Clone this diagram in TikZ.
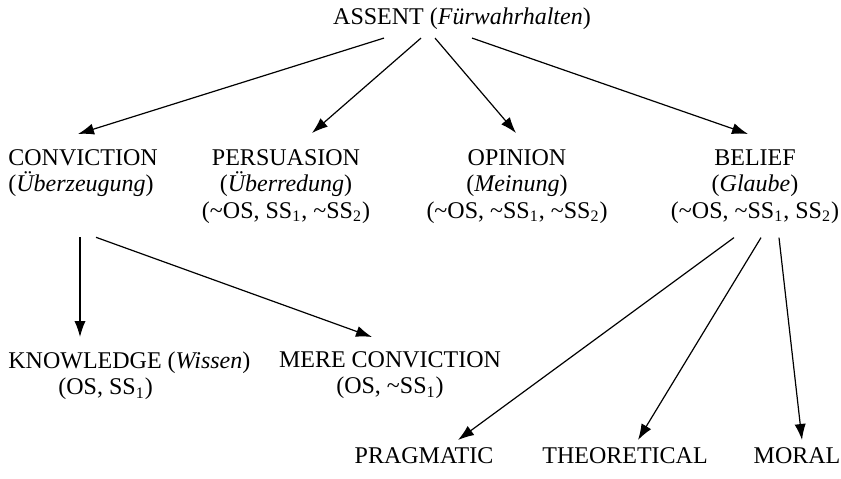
\documentclass[tikz,border=0pt]{standalone}
\usepackage{fontspec}
\setmainfont{Liberation Serif}
\usetikzlibrary{arrows.meta,calc}

\newcommand{\nope}{\textasciitilde}
\newcommand{\ssone}{SS\textsubscript{1}}
\newcommand{\sstwo}{SS\textsubscript{2}}

\tikzset{
	lbl/.style={inner sep=0pt, align=center, font=\fontsize{12}{13.25}\selectfont},
	arr/.style={-{Latex[length=8pt,width=5.6pt]}, line width=0.6pt},
}

\begin{document}
\begin{tikzpicture}[x=0.5pt,y=-0.5pt]
	\useasboundingbox (0,0) rectangle (841,478);
	% top
	\node[lbl, anchor=north] (assent) at (462,7) {ASSENT (\textit{Fürwahrhalten})};
	% second row
	\node[lbl, anchor=north west, align=left] (conviction) at (8,149) {CONVICTION\\(\textit{Überzeugung})};
	\node[lbl, anchor=north] (persuasion) at (286,149) {PERSUASION\\(\textit{Überredung})\\(\nope OS, \ssone, \nope\sstwo)};
	\node[lbl, anchor=north] (opinion) at (517,149) {OPINION\\(\textit{Meinung})\\(\nope OS, \nope\ssone, \nope\sstwo)};
	\node[lbl, anchor=north] (belief) at (755,149) {BELIEF\\(\textit{Glaube})\\(\nope OS, \nope\ssone, \sstwo)};
	% third row
	\node[lbl, anchor=north west, align=left] (knowledge) at (8,351) {KNOWLEDGE (\textit{Wissen})\\\hspace*{25pt}(OS, \ssone)};
	\node[lbl, anchor=north] (mere) at (390,351) {MERE CONVICTION\\(OS, \nope\ssone)};
	% bottom row
	\node[lbl, anchor=north] (pragmatic) at (424,447) {PRAGMATIC};
	\node[lbl, anchor=north] (theoretical) at (625,447) {THEORETICAL};
	\node[lbl, anchor=north] (moral) at (797,447) {MORAL};

	\draw[arr] ($(assent.base)+(-78,14)$) -- ($(conviction.north west)+(70,-15)$);
	\draw[arr] ($(assent.base)+(-41,14)$) -- ($(persuasion.north)+(26,-16)$);
	\draw[arr] ($(assent.base)+(-27,14)$) -- ($(opinion.north)+(-1,-16)$);
	\draw[arr] ($(assent.base)+(10,14)$) -- ($(belief.north)+(-7,-15)$);

	\draw[arr] ($(conviction.south west)+(72,40)$) -- ($(knowledge.north west)+(72,-14)$);
	\draw[arr] ($(conviction.south west)+(88,40)$) -- ($(mere.north)+(-18,-14)$);

	\draw[arr] ($(belief.south)+(-21,14)$) -- ($(pragmatic.north)+(34,-7)$);
	\draw[arr] ($(belief.south)+(6,14)$) -- ($(theoretical.north)+(13,-7)$);
	\draw[arr] ($(belief.south)+(24,14)$) -- ($(moral.north)+(5,-7)$);
\end{tikzpicture}
\end{document}
